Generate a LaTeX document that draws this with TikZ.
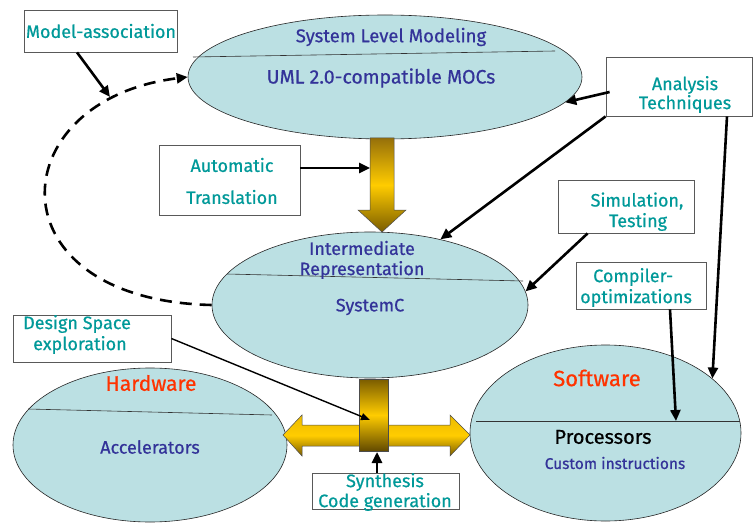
\documentclass[tikz,border=0pt]{standalone}
\usepackage{fontspec}
\setmainfont{Fira Sans}[FakeBold=0.6]
\usetikzlibrary{arrows.meta,calc,shapes.geometric}
\definecolor{labelteal}{RGB}{0,153,153}
\definecolor{ovalblue}{RGB}{51,51,153}
\definecolor{ovalred}{RGB}{255,51,0}
\definecolor{ovalfill}{RGB}{187,224,227}
\definecolor{goldmid}{RGB}{255,204,0}
\definecolor{golddark}{RGB}{122,92,0}
\definecolor{goldtop}{RGB}{150,112,10}
\tikzset{
  ovalnode/.style={ellipse, draw=black!85, fill=ovalfill, line width=0.6pt, inner sep=0pt},
  notebox/.style={rectangle, draw=black!65, fill=white, line width=0.8pt, inner sep=0pt},
  notetext/.style={text=labelteal, font=\fontsize{18}{20}\selectfont, inner sep=0pt},
  ovaltext/.style={text=ovalblue, font=\fontsize{18}{20}\selectfont, inner sep=0pt},
  headtext/.style={text=ovalred, font=\fontsize{21}{23}\selectfont, inner sep=0pt},
  conn/.style={line width=2.6pt, -{Triangle[length=11pt,width=10pt]}},
  thinconn/.style={line width=1.4pt, -{Triangle[length=9pt,width=7pt]}},
  seam/.style={line width=0.6pt, draw=black!80},
  goldedge/.style={draw=black!70, line width=0.5pt}
}
\begin{document}
\begin{tikzpicture}[x=1pt,y=-1pt]
\useasboundingbox (0,0) rectangle (755,524);
\fill[white] (0,0) rectangle (755,524);
\begin{scope}
\clip (0,0) rectangle (755,524);

% ---- the four ovals ----
\node[ovalnode, minimum width=394pt, minimum height=124pt] (sys) at (385,77) {};
\draw[seam] (193,57) -- (555,51);
\node[ovaltext, font=\fontsize{18.5}{20}\selectfont] (sysT1) at (391,37) {System Level Modeling};
\node[ovaltext, font=\fontsize{19.5}{21}\selectfont] (sysT2) at (381,78) {UML 2.0-compatible MOCs};

\node[ovalnode, minimum width=316pt, minimum height=146pt] (ir) at (370,305) {};
\draw[seam] (227,274) -- (523,281);
\node[ovaltext] (irT1) at (362,248) {Intermediate};
\node[ovaltext] (irT2) at (362,270) {Representation};
\node[ovaltext] (irT3) at (370,307) {SystemC};

\node[ovalnode, minimum width=274pt, minimum height=154pt] (hw) at (150,445) {};
\draw[seam] (28,409) -- (272,415);
\node[headtext] (hwT1) at (151,383) {Hardware};
\node[ovaltext] (hwT2) at (150,447) {Accelerators};

\node[ovalnode, minimum width=271pt, minimum height=176pt] (sw) at (605.5,433) {};
\draw[seam] (476,421) -- (740,421);
\node[headtext, font=\fontsize{22}{24}\selectfont] (swT1) at (597,378) {Software};
\node[ovaltext, text=black, font=\fontsize{20}{22}\selectfont] (swT2) at (603,437) {Processors};
\node[ovaltext, font=\fontsize{15.5}{17}\selectfont] (swT3) at (615,463) {Custom instructions};

% ---- gold arrows ----
\path[goldedge, top color=goldtop, bottom color=golddark, middle color=goldmid]
  (370,138) -- (394,138) -- (394,210) -- (406,210) -- (382,232) -- (358,210) -- (370,210) -- cycle;
\path[goldedge, top color=goldmid!85!golddark, bottom color=golddark, middle color=goldmid]
  (283,435) -- (302,415) -- (302,425) -- (450,425) -- (450,415) -- (470,435)
  -- (450,456) -- (450,446) -- (302,446) -- (302,456) -- cycle;
\path[goldedge, top color=golddark, bottom color=golddark!80!black, middle color=goldmid]
  (359,379) rectangle (388,451);

% ---- note boxes ----
\node[notebox, minimum width=153pt, minimum height=42pt] (ma) at (100.5,31) {};
\node[notetext] (maT) at (101,31) {Model-association};

\node[notebox, minimum width=146pt, minimum height=59pt] (an) at (679,86.5) {};
\node[notetext, align=center] (anT) at (685,94.5) {Analysis\\[-1pt]Techniques};

\node[notebox, minimum width=141pt, minimum height=70pt] (at) at (229.5,180) {};
\node[notetext] (atT1) at (232,165) {Automatic};
\node[notetext] (atT2) at (232,197) {Translation};

\node[notebox, minimum width=136pt, minimum height=53pt] (sim) at (626,206.5) {};
\node[notetext] (simT1) at (637,201) {Simulation,};
\node[notetext] (simT2) at (638,222) {Testing};

\node[notebox, minimum width=130pt, minimum height=47pt] (co) at (641,285.5) {};
\node[notetext, anchor=west] (coT1) at (593,277) {Compiler-};
\node[notetext, anchor=west] (coT2) at (580,298) {optimizations};

\node[notebox, minimum width=158pt, minimum height=47pt] (ds) at (92,338.5) {};
\node[notetext, anchor=west] (dsT1) at (23,324) {Design Space};
\node[notetext, anchor=west] (dsT2) at (33,345) {exploration};

\node[notebox, minimum width=147pt, minimum height=36pt] (syn) at (385.5,491) {};
\node[notetext] (synT1) at (385,482) {Synthesis};
\node[notetext] (synT2) at (385,502) {Code generation};

% ---- connectors ----
\coordinate (mahit) at (110,97);
\coordinate (athit) at (370,168);
\coordinate (dshit) at (370,420);
\coordinate (synhit) at (377,452);
\coordinate (cohit) at (676,421);

\draw[line width=2.6pt, dash pattern=on 12pt off 8pt, -{Triangle[length=11pt,width=10pt]}]
  (ir.west) .. controls (-10,300) and (0,100) .. (sys.west);
\draw[conn] ($(ma.south)+(-23.5,0)$) -- (mahit);
\draw[conn] ($(at.east)+(0,-12)$) -- (athit);
\draw[conn] ($(an.west)+(4,5.5)$) -- (sys.-8);
\draw[conn] (an.south west) -- (ir.43);
\draw[conn] ($(an.south)+(48,0)$) -- (sw.27);
\draw[conn] ($(sim.south west)+(30,0)$) -- (ir.5.5);
\draw[conn] ($(co.south)+(29,0)$) -- (cohit);
\draw[thinconn] (ds.east) -- (dshit);
\draw[conn] ($(syn.north)+(-8.5,0)$) -- (synhit);
\end{scope}
\end{tikzpicture}
\end{document}
